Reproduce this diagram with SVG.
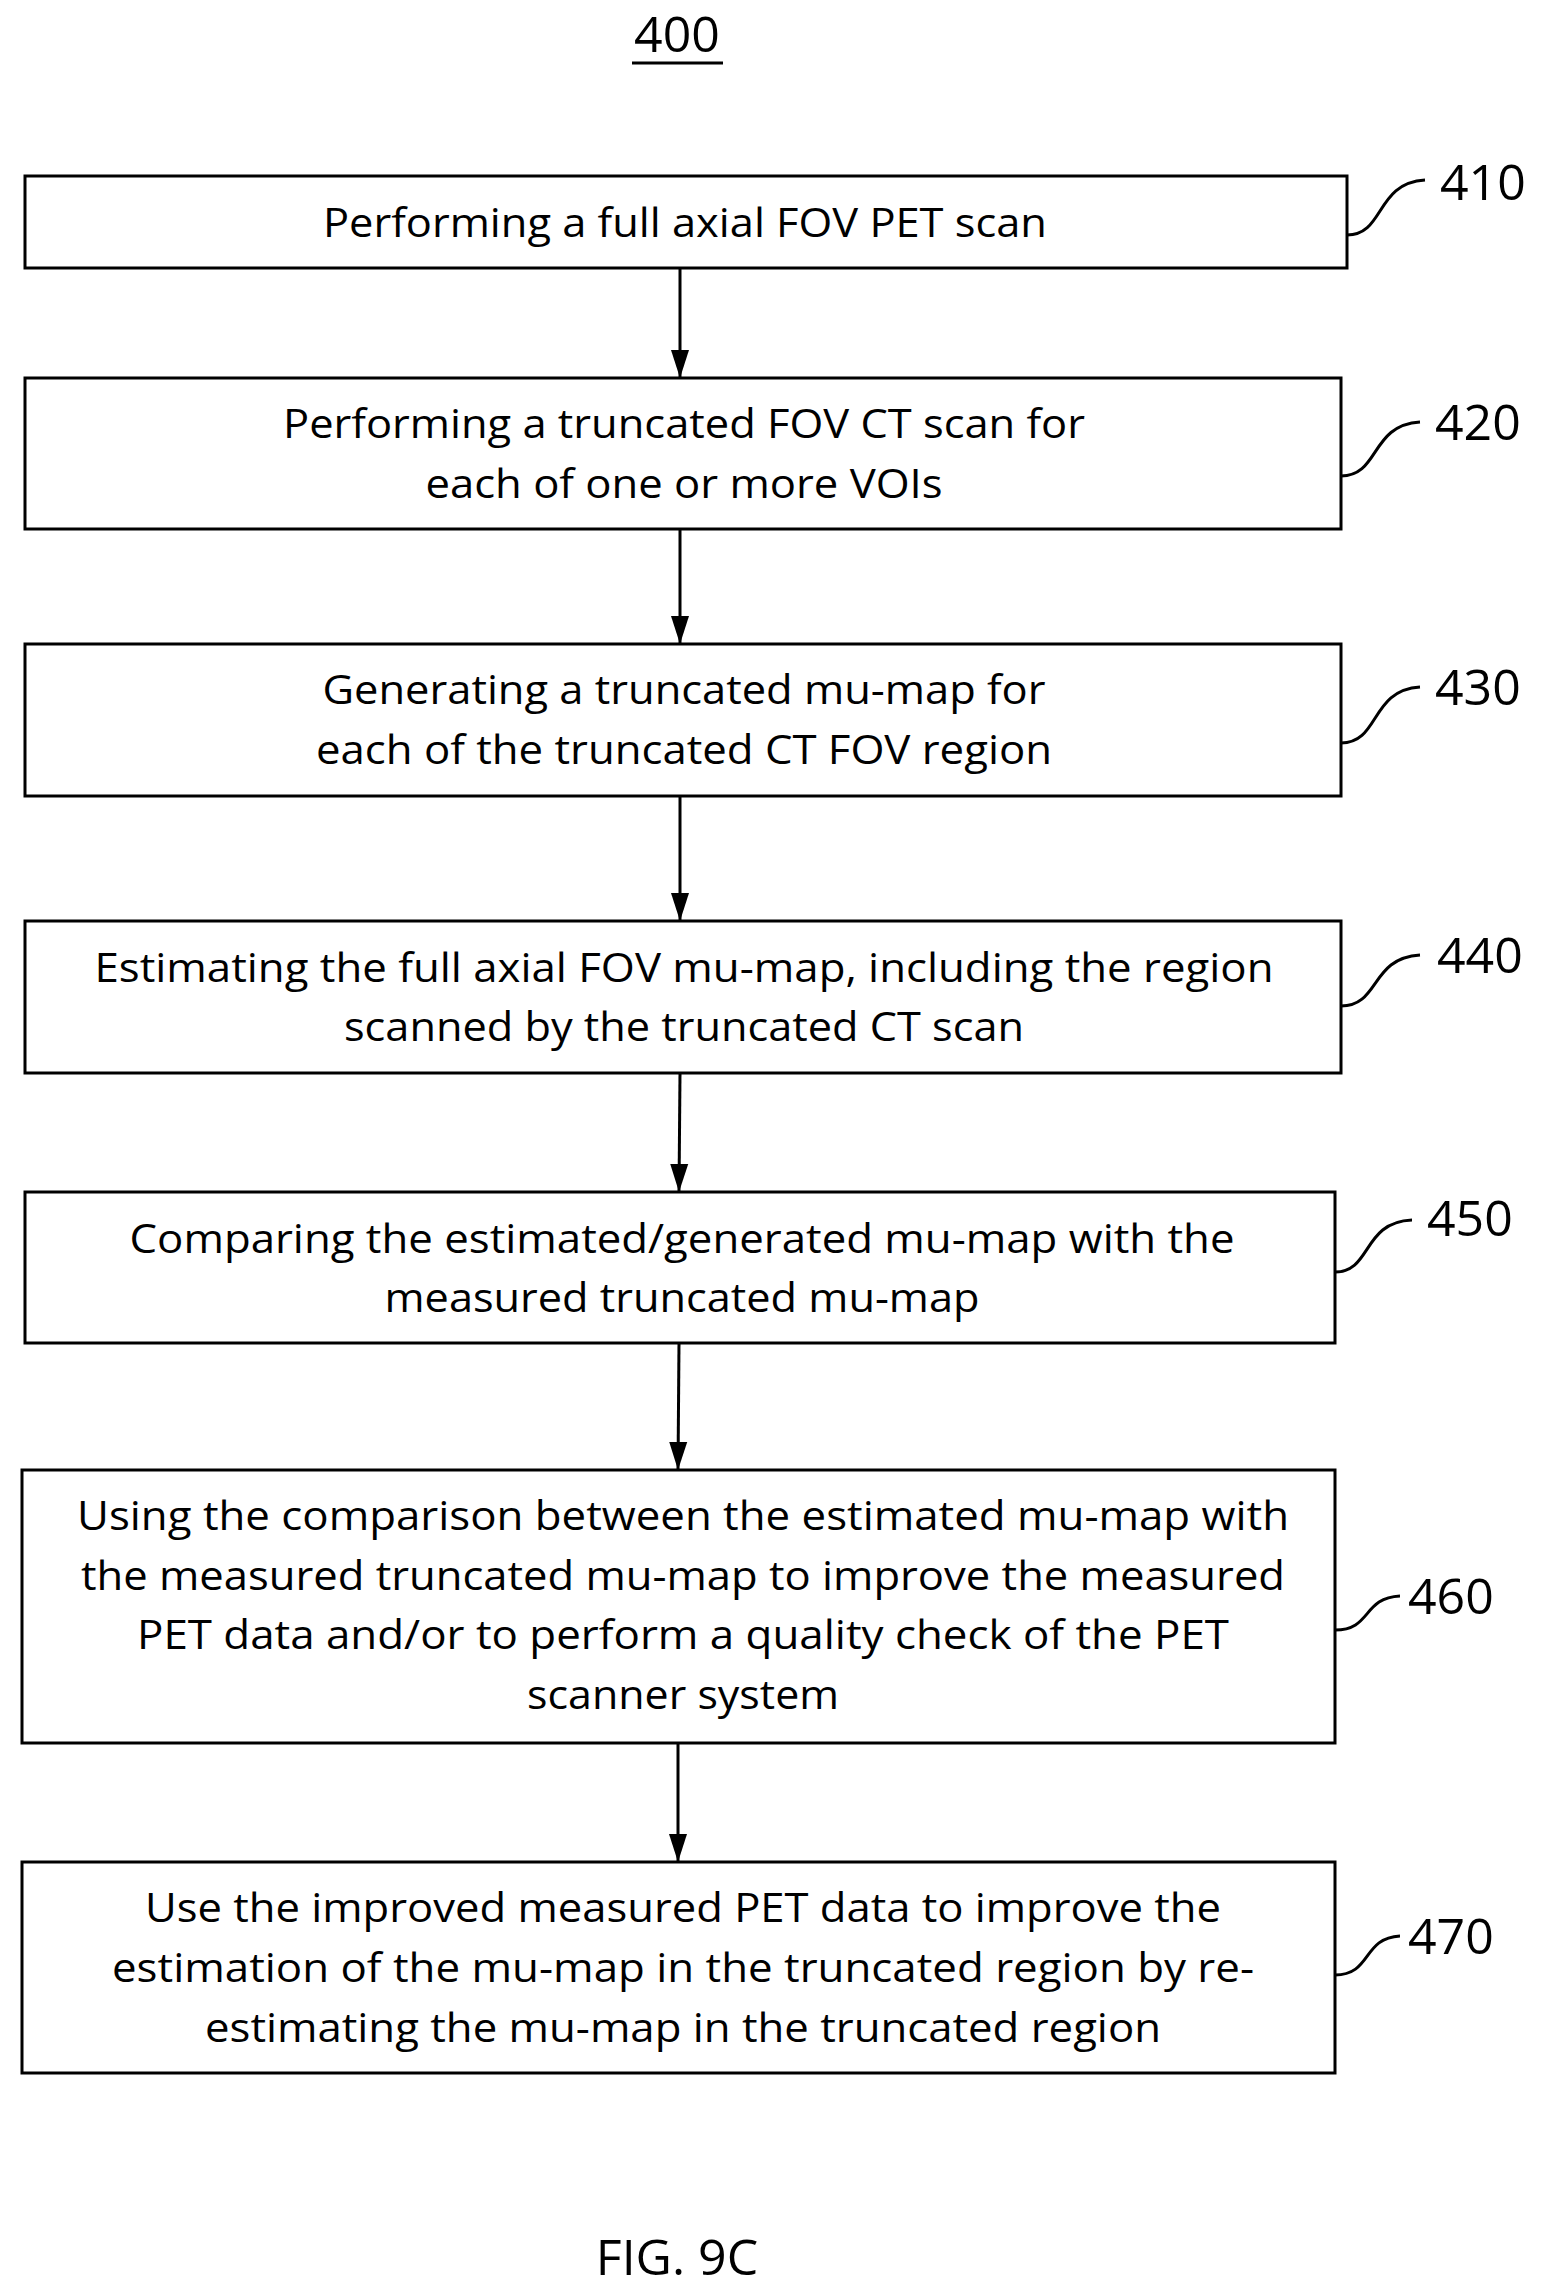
<svg xmlns="http://www.w3.org/2000/svg" width="1542" height="2288" viewBox="0 0 1542 2288">
<style>
.box{fill:#fff;stroke:#000;stroke-width:3}
.t{font-family:"Open Sans","Liberation Sans",sans-serif;font-size:40px;text-anchor:middle;fill:#000}
.lb{font-family:"Open Sans","Liberation Sans",sans-serif;font-size:50px;fill:#000}
.ld{fill:none;stroke:#000;stroke-width:3}
</style>
<defs><marker id="a2" markerWidth="28" markerHeight="28" refX="28" refY="14" orient="auto" markerUnits="userSpaceOnUse"><path d="M0,5 L28,14 L0,23 z"/></marker></defs>
<rect width="1542" height="2288" fill="#fff"/>
<g id="title"><text class="lb" x="677" y="52" text-anchor="middle">400</text><line x1="632" y1="63" x2="723" y2="63" stroke="#000" stroke-width="3"/></g>
<g id="connectors" stroke="#000" stroke-width="3">
<line x1="680" y1="268" x2="680" y2="378" style="marker-end:url(#a2)"/>
<line x1="680" y1="529" x2="680" y2="644" style="marker-end:url(#a2)"/>
<line x1="680" y1="796" x2="680" y2="921" style="marker-end:url(#a2)"/>
<line x1="680" y1="1073" x2="679" y2="1192" style="marker-end:url(#a2)"/>
<line x1="679" y1="1343" x2="678" y2="1470" style="marker-end:url(#a2)"/>
<line x1="678" y1="1743" x2="678" y2="1862" style="marker-end:url(#a2)"/>
</g>
<g id="n410"><rect class="box" x="25" y="176" width="1322" height="92"/><text class="t" x="685" y="237" textLength="724" lengthAdjust="spacingAndGlyphs">Performing a full axial FOV PET scan</text>
<path class="ld" d="M1347,235 C1385,235 1375,183 1425,180"/><text class="lb" x="1440" y="200">410</text></g>
<g id="n420"><rect class="box" x="25" y="378" width="1316" height="151"/><text class="t" x="684" y="438" textLength="802" lengthAdjust="spacingAndGlyphs">Performing a truncated FOV CT scan for</text><text class="t" x="684" y="498" textLength="517" lengthAdjust="spacingAndGlyphs">each of one or more VOIs</text>
<path class="ld" d="M1341,476 C1380,476 1370,425 1420,422"/><text class="lb" x="1435" y="440">420</text></g>
<g id="n430"><rect class="box" x="25" y="644" width="1316" height="152"/><text class="t" x="684" y="704" textLength="723" lengthAdjust="spacingAndGlyphs">Generating a truncated mu-map for</text><text class="t" x="684" y="764" textLength="736" lengthAdjust="spacingAndGlyphs">each of the truncated CT FOV region</text>
<path class="ld" d="M1341,743 C1380,743 1370,690 1420,687"/><text class="lb" x="1435" y="705">430</text></g>
<g id="n440"><rect class="box" x="25" y="921" width="1316" height="152"/><text class="t" x="684" y="982" textLength="1179" lengthAdjust="spacingAndGlyphs">Estimating the full axial FOV mu-map, including the region</text><text class="t" x="684" y="1041" textLength="680" lengthAdjust="spacingAndGlyphs">scanned by the truncated CT scan</text>
<path class="ld" d="M1341,1006 C1380,1006 1370,958 1420,955"/><text class="lb" x="1437" y="973">440</text></g>
<g id="n450"><rect class="box" x="25" y="1192" width="1310" height="151"/><text class="t" x="682" y="1253" textLength="1105" lengthAdjust="spacingAndGlyphs">Comparing the estimated/generated mu-map with the</text><text class="t" x="682" y="1312" textLength="595" lengthAdjust="spacingAndGlyphs">measured truncated mu-map</text>
<path class="ld" d="M1335,1272 C1372,1272 1362,1222 1412,1220"/><text class="lb" x="1427" y="1236">450</text></g>
<g id="n460"><rect class="box" x="22" y="1470" width="1313" height="273"/><text class="t" x="683" y="1530" textLength="1212" lengthAdjust="spacingAndGlyphs">Using the comparison between the estimated mu-map with</text><text class="t" x="683" y="1590" textLength="1204" lengthAdjust="spacingAndGlyphs">the measured truncated mu-map to improve the measured</text><text class="t" x="683" y="1649" textLength="1092" lengthAdjust="spacingAndGlyphs">PET data and/or to perform a quality check of the PET</text><text class="t" x="683" y="1709" textLength="312" lengthAdjust="spacingAndGlyphs">scanner system</text>
<path class="ld" d="M1335,1630 C1372,1630 1362,1598 1400,1596"/><text class="lb" x="1408" y="1614">460</text></g>
<g id="n470"><rect class="box" x="22" y="1862" width="1313" height="211"/><text class="t" x="683" y="1922" textLength="1076" lengthAdjust="spacingAndGlyphs">Use the improved measured PET data to improve the</text><text class="t" x="683" y="1982" textLength="1142" lengthAdjust="spacingAndGlyphs">estimation of the mu-map in the truncated region by re-</text><text class="t" x="683" y="2042" textLength="956" lengthAdjust="spacingAndGlyphs">estimating the mu-map in the truncated region</text>
<path class="ld" d="M1335,1975 C1372,1975 1362,1938 1400,1936"/><text class="lb" x="1408" y="1954">470</text></g>
<g id="fig"><text class="lb" x="677" y="2275" text-anchor="middle" font-size="56">FIG. 9C</text></g>
</svg>
